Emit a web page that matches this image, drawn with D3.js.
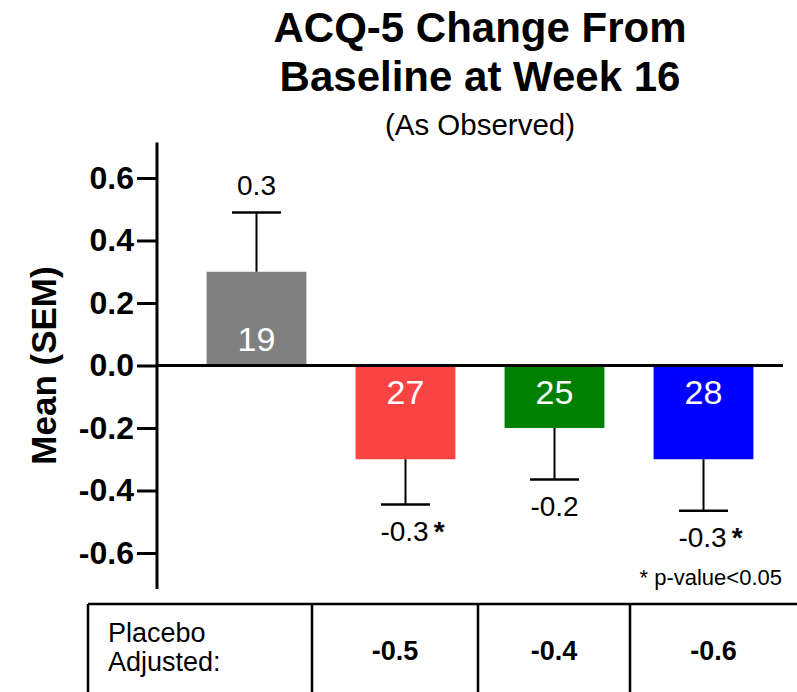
<!DOCTYPE html>
<html>
<head>
<meta charset="utf-8">
<script src="https://cdn.jsdelivr.net/npm/d3@7"></script>
<style>
  html, body { margin: 0; padding: 0; background: #fff; }
  svg { display: block; }
  text { font-family: "Liberation Sans", Arial, Helvetica, sans-serif; }
</style>
</head>
<body>
<svg id="chart" width="797" height="692"></svg>
<script>
// ---- data ----
const categories = ["Placebo", "Dose 1", "Dose 2", "Dose 3"];
const means = [0.3, -0.3, -0.2, -0.3];
const sems = [0.19, 0.145, 0.165, 0.165];
const nLabels = ["19", "27", "25", "28"];
const valueLabels = ["0.3", "-0.3", "-0.2", "-0.3"];
const significant = [false, true, false, true];
const barColors = ["#808080", "#FA4444", "#008000", "#0000FF"];
const yTicks = [-0.6, -0.4, -0.2, 0.0, 0.2, 0.4, 0.6];
const placeboAdjusted = ["-0.5", "-0.4", "-0.6"];
const tableRowLabel = ["Placebo", "Adjusted:"];

const svg = d3.select("#chart");

// ---- scales ----
const y = d3.scaleLinear().domain([-0.6, 0.6]).range([553, 178]);
const x = d3.scaleBand().domain(categories).range([182, 778])
  .paddingInner(0.33).paddingOuter(0.165);
const axisX = 157;

// ---- title ----
svg.append("text").attr("x", 480).attr("y", 42).attr("text-anchor", "middle")
  .attr("font-size", 42).attr("font-weight", "bold").text("ACQ-5 Change From");
svg.append("text").attr("x", 480).attr("y", 91).attr("text-anchor", "middle")
  .attr("font-size", 42).attr("font-weight", "bold").text("Baseline at Week 16");
svg.append("text").attr("x", 480).attr("y", 135).attr("text-anchor", "middle")
  .attr("font-size", 29.5).text("(As Observed)");

// ---- y axis label ----
svg.append("text")
  .attr("transform", `translate(56,${y(0)}) rotate(-90)`)
  .attr("text-anchor", "middle")
  .attr("font-size", 35).attr("font-weight", "bold")
  .text("Mean (SEM)");

// ---- bars ----
const data = categories.map((c, i) => ({
  c, mean: means[i], sem: sems[i], n: nLabels[i], label: valueLabels[i],
  sig: significant[i], color: barColors[i]
}));

svg.append("g").selectAll("rect").data(data).join("rect")
  .attr("x", d => x(d.c))
  .attr("width", x.bandwidth())
  .attr("y", d => y(Math.max(0, d.mean)))
  .attr("height", d => Math.abs(y(d.mean) - y(0)))
  .attr("fill", d => d.color);

// ---- error bars ----
const capHalf = 24.5;
const eb = svg.append("g").attr("stroke", "#000").attr("stroke-width", 2);
data.forEach(d => {
  const cx = x(d.c) + x.bandwidth() / 2;
  const end = d.mean >= 0 ? d.mean + d.sem : d.mean - d.sem;
  eb.append("line").attr("x1", cx).attr("x2", cx)
    .attr("y1", y(d.mean)).attr("y2", y(end));
  eb.append("line").attr("x1", cx - capHalf).attr("x2", cx + capHalf)
    .attr("y1", y(end)).attr("y2", y(end)).attr("stroke-width", 2.5);
});

// ---- value labels ----
data.forEach(d => {
  const cx = x(d.c) + x.bandwidth() / 2;
  const end = d.mean >= 0 ? d.mean + d.sem : d.mean - d.sem;
  const ty = d.mean >= 0 ? y(end) - 17 : y(end) + 36;
  const t = svg.append("text").attr("x", cx).attr("y", ty)
    .attr("text-anchor", "middle").attr("font-size", 28).attr("fill", "#000");
  t.append("tspan").text(d.label);
  if (d.sig) {
    t.attr("x", cx + 7);
    t.append("tspan").attr("dx", 5).attr("font-size", 28).attr("font-weight", "bold").text("*");
  }
  // n labels inside bars
  const ny = d.mean >= 0 ? y(0) - 15 : y(0) + 38;
  svg.append("text").attr("x", cx).attr("y", ny).attr("text-anchor", "middle")
    .attr("font-size", 34).attr("fill", "#fff").text(d.n);
});

// ---- y axis ----
const yAxis = d3.axisLeft(y).tickValues(yTicks).tickSize(20).tickPadding(3)
  .tickFormat(d => d.toFixed(1));
const gy = svg.append("g").attr("transform", `translate(${axisX},0)`).call(yAxis);
gy.select(".domain").remove();
gy.selectAll(".tick line").attr("stroke", "#000").attr("stroke-width", 3);
gy.selectAll(".tick text").attr("font-size", 32).attr("font-weight", "bold")
  .attr("fill", "#000").attr("font-family", "Liberation Sans, Arial, sans-serif");
svg.append("line").attr("x1", axisX).attr("x2", axisX)
  .attr("y1", y(0.714)).attr("y2", y(-0.715))
  .attr("stroke", "#000").attr("stroke-width", 3);

// zero line
svg.append("line").attr("x1", axisX).attr("x2", 783)
  .attr("y1", y(0)).attr("y2", y(0))
  .attr("stroke", "#000").attr("stroke-width", 3);

// p-value note
svg.append("text").attr("x", 782).attr("y", 585).attr("text-anchor", "end")
  .attr("font-size", 22).text("* p-value<0.05");

// ---- table ----
const tableTop = 604;
const colEdges = [88, 312, 478, 630, 797];
const tg = svg.append("g").attr("stroke", "#000").attr("stroke-width", 2.5);
tg.append("line").attr("x1", colEdges[0]).attr("x2", 797)
  .attr("y1", tableTop).attr("y2", tableTop);
colEdges.slice(0, 4).forEach(cx => {
  tg.append("line").attr("x1", cx).attr("x2", cx)
    .attr("y1", tableTop).attr("y2", 700);
});
tableRowLabel.forEach((t, i) => {
  svg.append("text").attr("x", 108).attr("y", 642 + i * 29)
    .attr("font-size", 27).attr("font-family", "Liberation Sans, sans-serif")
    .text(t);
});
placeboAdjusted.forEach((v, i) => {
  svg.append("text").attr("x", (colEdges[i + 1] + colEdges[i + 2]) / 2).attr("y", 660)
    .attr("text-anchor", "middle").attr("font-size", 27).attr("font-weight", "bold")
    .text(v);
});
</script>
</body>
</html>
